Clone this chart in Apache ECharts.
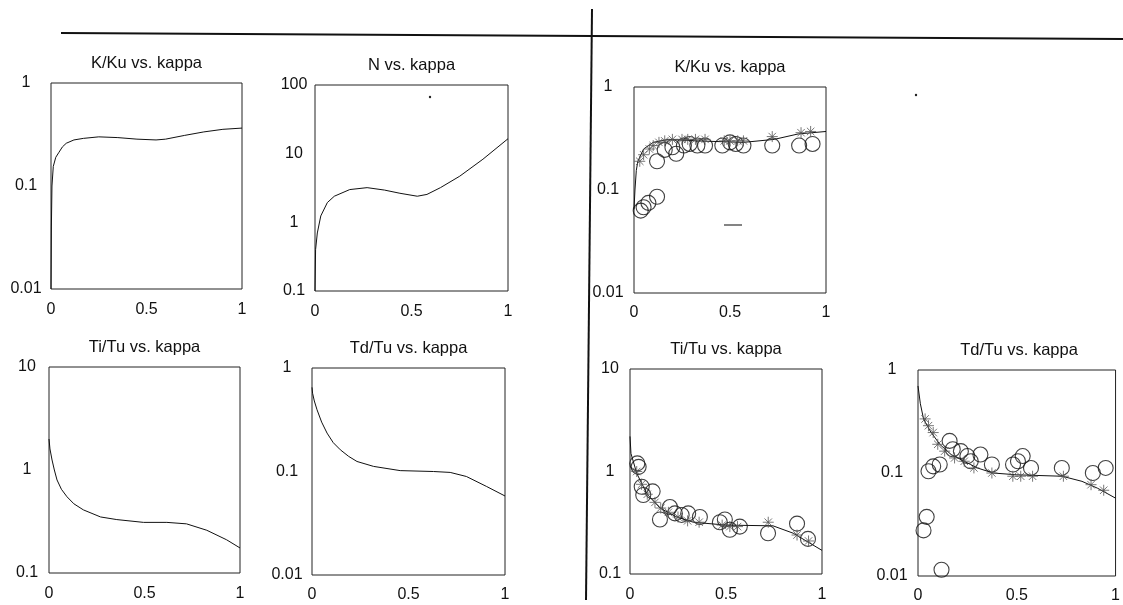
<!DOCTYPE html>
<html>
<head>
<meta charset="utf-8">
<script src="https://cdn.jsdelivr.net/npm/echarts@6/dist/echarts.min.js"></script>
<style>
html,body{margin:0;padding:0;background:#fff;}
#c{width:1123px;height:605px;}
</style>
</head>
<body>
<div id="c"></div>
<script>
// ---------- titles & tick labels ----------
const titles = ['K/Ku vs. kappa','N vs. kappa','K/Ku vs. kappa','Ti/Tu vs. kappa','Td/Tu vs. kappa','Ti/Tu vs. kappa','Td/Tu vs. kappa'];
const xTicks = [0, 0.5, 1];
const yRanges = [[0.01,1],[0.1,100],[0.01,1],[0.1,10],[0.01,1],[0.1,10],[0.01,1]];

// ---------- model curves (kappa, value) ----------
const kkuModel = [[0,0.01],[0.002,0.04],[0.005,0.1],[0.012,0.155],[0.025,0.19],[0.04,0.21],[0.06,0.24],[0.08,0.26],[0.12,0.28],[0.17,0.29],[0.25,0.30],[0.35,0.295],[0.45,0.285],[0.55,0.28],[0.6,0.285],[0.7,0.31],[0.8,0.335],[0.9,0.355],[1,0.365]];
const nModel = [[0,0.1],[0.003,0.4],[0.012,0.7],[0.03,1.24],[0.064,1.94],[0.1,2.4],[0.18,3.0],[0.27,3.2],[0.36,2.95],[0.44,2.65],[0.53,2.4],[0.58,2.55],[0.65,3.2],[0.75,4.7],[0.87,8.3],[1,16.5]];
const tiModel = [[0,2.0],[0.005,1.6],[0.016,1.25],[0.028,1.0],[0.042,0.8],[0.065,0.65],[0.094,0.55],[0.13,0.47],[0.18,0.41],[0.27,0.35],[0.355,0.33],[0.495,0.31],[0.617,0.31],[0.72,0.30],[0.826,0.26],[0.93,0.21],[1,0.175]];
const tdModel = [[0,0.65],[0.003,0.57],[0.012,0.48],[0.026,0.395],[0.05,0.3],[0.078,0.235],[0.11,0.19],[0.147,0.162],[0.19,0.14],[0.233,0.125],[0.319,0.112],[0.457,0.102],[0.629,0.1],[0.716,0.098],[0.80,0.0895],[0.905,0.0716],[1,0.058]];

// ---------- right-hand panels: fitted line, circles (measured), asterisks (model points) ----------
const kkuFit = [[0,0.065],[0.005,0.1],[0.012,0.155],[0.02,0.19],[0.05,0.25],[0.1,0.29],[0.18,0.31],[0.32,0.30],[0.57,0.29],[0.73,0.31],[0.855,0.35],[1,0.37]];
const kkuCircles = [[0.035,0.063],[0.05,0.068],[0.075,0.075],[0.12,0.086],[0.12,0.19],[0.16,0.245],[0.22,0.225],[0.2,0.26],[0.26,0.27],[0.29,0.28],[0.33,0.27],[0.37,0.27],[0.46,0.27],[0.5,0.29],[0.53,0.28],[0.57,0.27],[0.72,0.27],[0.86,0.27],[0.93,0.28]];
const kkuStars = [[0.03,0.19],[0.05,0.22],[0.08,0.25],[0.1,0.27],[0.13,0.29],[0.16,0.3],[0.2,0.31],[0.25,0.31],[0.28,0.31],[0.32,0.31],[0.37,0.31],[0.47,0.3],[0.5,0.3],[0.54,0.3],[0.57,0.3],[0.72,0.33],[0.87,0.36],[0.92,0.37]];

const tiFit = [[0,2.2],[0.005,1.5],[0.035,0.96],[0.087,0.61],[0.156,0.44],[0.243,0.36],[0.33,0.32],[0.5,0.30],[0.745,0.295],[0.85,0.25],[1,0.17]];
const tiCircles = [[0.038,1.2],[0.045,1.11],[0.061,0.71],[0.069,0.59],[0.118,0.64],[0.156,0.34],[0.208,0.45],[0.234,0.39],[0.269,0.377],[0.303,0.39],[0.364,0.36],[0.468,0.32],[0.494,0.34],[0.52,0.27],[0.572,0.29],[0.719,0.25],[0.87,0.31],[0.927,0.22]];
const tiStars = [[0.035,1.0],[0.06,0.75],[0.09,0.6],[0.13,0.5],[0.16,0.44],[0.2,0.4],[0.25,0.36],[0.3,0.33],[0.36,0.32],[0.48,0.3],[0.52,0.29],[0.56,0.29],[0.72,0.32],[0.87,0.24],[0.93,0.21]];

const tdFit = [[0,0.7],[0.012,0.47],[0.028,0.335],[0.061,0.257],[0.11,0.19],[0.168,0.151],[0.234,0.13],[0.30,0.112],[0.38,0.1],[0.5,0.096],[0.73,0.093],[0.83,0.083],[0.91,0.071],[1,0.057]];
const tdCircles = [[0.044,0.0375],[0.028,0.0277],[0.119,0.0115],[0.053,0.104],[0.077,0.116],[0.11,0.121],[0.16,0.205],[0.176,0.17],[0.217,0.163],[0.25,0.146],[0.267,0.13],[0.316,0.151],[0.374,0.121],[0.481,0.121],[0.506,0.13],[0.53,0.146],[0.572,0.112],[0.728,0.112],[0.885,0.1],[0.95,0.112]];
const tdStars = [[0.036,0.335],[0.053,0.288],[0.077,0.247],[0.10,0.19],[0.135,0.163],[0.185,0.14],[0.234,0.13],[0.283,0.112],[0.374,0.1],[0.48,0.093],[0.52,0.093],[0.58,0.093],[0.736,0.093],[0.876,0.077],[0.94,0.068]];

// ---------- layout ----------
const grids = [
  {left:51, top:83, width:191, height:206, lm:25, xm:13},
  {left:315, top:85, width:193, height:206, lm:21, xm:13},
  {left:634, top:87, width:192, height:206, lm:26, xm:12},
  {left:49, top:367, width:191, height:206, lm:22, xm:13},
  {left:312, top:368, width:193, height:207, lm:25, xm:12},
  {left:630, top:369, width:192, height:205, lm:20, xm:13},
  {left:918, top:370, width:202, height:206, lm:26, xm:12}
];
const FONT = '"Liberation Sans", Arial, sans-serif';
const STAR = 'path://M5,0L5,10M0,5L10,5M1.6,1.6L8.4,8.4M1.6,8.4L8.4,1.6';

const fmt = v => { const r = +(+v).toPrecision(3); return String(r); };

const option = {
  backgroundColor: '#fff',
  animation: false,
  title: grids.map((g, i) => ({
    text: titles[i],
    left: g.left + g.width / 2,
    top: g.top - 28,
    padding: 0,
    textAlign: 'center',
    textStyle: {fontFamily: FONT, fontSize: 16.5, fontWeight: 'normal', color: '#111'}
  })),
  grid: grids.map(g => ({left:g.left, top:g.top, width:g.width, height:g.height, show:true, borderColor:'#222', borderWidth:1, backgroundColor:'transparent'})),
  xAxis: grids.map((g, i) => ({
    type:'value', gridIndex:i, min:xTicks[0], max:xTicks[xTicks.length-1], interval:0.5,
    axisLine:{show:false}, axisTick:{show:false}, splitLine:{show:false},
    axisLabel:{margin:g.xm, fontFamily:FONT, fontSize:16, color:'#111', formatter: fmt}
  })),
  yAxis: grids.map((g, i) => ({
    type:'log', logBase:10, gridIndex:i, min:yRanges[i][0], max:yRanges[i][1],
    axisLine:{show:false}, axisTick:{show:false}, splitLine:{show:false}, minorTick:{show:false},
    axisLabel:{margin:g.lm, align:'center', fontFamily:FONT, fontSize:16, color:'#111', formatter: fmt}
  })),
  series: [],
  graphic: [
    {type:'line', shape:{x1:61, y1:33, x2:1123, y2:39}, style:{stroke:'#111', lineWidth:2}},
    {type:'line', shape:{x1:592, y1:9, x2:586, y2:600}, style:{stroke:'#111', lineWidth:2}},
    {type:'circle', shape:{cx:430, cy:97, r:1.2}, style:{fill:'#222'}},
    {type:'circle', shape:{cx:916, cy:95, r:1.2}, style:{fill:'#222'}},
    {type:'line', shape:{x1:724, y1:225, x2:742, y2:225}, style:{stroke:'#333', lineWidth:1.2}}
  ]
};

function lineSeries(data, idx){
  return {type:'line', xAxisIndex:idx, yAxisIndex:idx, data:data, showSymbol:false, symbol:'none', clip:true,
    lineStyle:{color:'#111', width:1}, z:3};
}
function circleSeries(data, idx){
  return {type:'scatter', xAxisIndex:idx, yAxisIndex:idx, data:data, symbol:'circle', symbolSize:15,
    itemStyle:{color:'rgba(0,0,0,0)', borderColor:'#111', borderWidth:1.1}, z:4};
}
function starSeries(data, idx){
  return {type:'scatter', xAxisIndex:idx, yAxisIndex:idx, data:data, symbol:STAR, symbolSize:11,
    itemStyle:{color:'none', borderColor:'#555', borderWidth:1}, z:5};
}

option.series.push(lineSeries(kkuModel, 0));
option.series.push(lineSeries(nModel, 1));
option.series.push(lineSeries(kkuFit, 2), circleSeries(kkuCircles, 2), starSeries(kkuStars, 2));
option.series.push(lineSeries(tiModel, 3));
option.series.push(lineSeries(tdModel, 4));
option.series.push(lineSeries(tiFit, 5), circleSeries(tiCircles, 5), starSeries(tiStars, 5));
option.series.push(lineSeries(tdFit, 6), circleSeries(tdCircles, 6), starSeries(tdStars, 6));

const chart = echarts.init(document.getElementById('c'), null, {renderer:'canvas'});
chart.setOption(option);
</script>
</body>
</html>
